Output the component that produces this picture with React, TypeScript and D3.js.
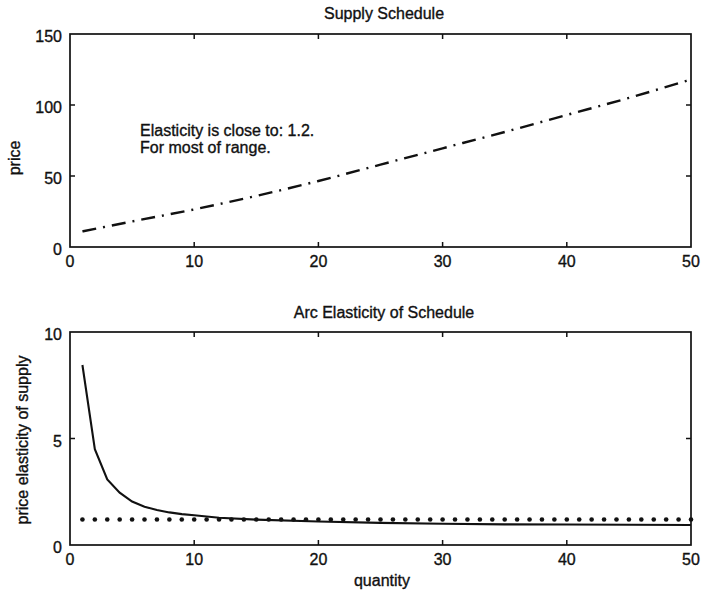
import React from "react";
import * as d3 from "d3";

// supply schedule
const supplyQty = [1, 5, 10, 15, 20, 25, 30, 35, 40, 45, 50];
const supplyPrice = [11, 18, 26.5, 36, 46.5, 58, 69.5, 81, 93, 105, 118];

// arc elasticity
const elastQty = [1, 2, 3, 4, 5, 6, 7, 8, 9, 10, 12, 15, 20, 25, 30, 35, 40, 45, 50];
const elastValue = [8.45, 4.5, 3.08, 2.46, 2.04, 1.8, 1.64, 1.53, 1.45, 1.4, 1.28, 1.19, 1.1, 1.04, 1.0, 0.97, 0.96, 0.95, 0.94];

// constant reference elasticity (dotted)
const refQty = d3.range(1, 51);
const refValue = 1.2;

const xTicks = [0, 10, 20, 30, 40, 50];
const topYTicks = [0, 50, 100, 150];
const botYTicks = [0, 5, 10];

const FONT = "'Liberation Sans', Arial, Helvetica, sans-serif";
const INK = "#111";

const left = 70;
const right = 691;
const topPanel = { y0: 34, y1: 247 };
const botPanel = { y0: 332, y1: 545 };

const x = d3.scaleLinear().domain([0, 50]).range([left, right]);

// scanned text looks a little heavier than plain Arial
const textStyle = { fontSize: 16, fill: INK, stroke: INK, strokeWidth: 0.35 };

function Panel({
  y,
  yTicks,
  title,
  titleY,
  yLabel,
  yLabelPos,
  children,
}: {
  y: d3.ScaleLinear<number, number>;
  yTicks: number[];
  title: string;
  titleY: number;
  yLabel: string;
  yLabelPos: [number, number];
  children?: React.ReactNode;
}) {
  const [yTop, yBot] = [y.range()[1], y.range()[0]];
  const tl = 5;
  return (
    <g>
      <text x={384} y={titleY} textAnchor="middle" {...textStyle}>
        {title}
      </text>
      <text
        transform={`translate(${yLabelPos[0]},${yLabelPos[1]}) rotate(-90)`}
        textAnchor="middle"
        {...textStyle}
      >
        {yLabel}
      </text>
      {children}
      <rect
        x={left}
        y={yTop}
        width={right - left}
        height={yBot - yTop}
        fill="none"
        stroke={INK}
        strokeWidth={1.7}
      />
      {xTicks.map((t) => (
        <g key={"x" + t}>
          {t > 0 && t < 50 && (
            <>
              <line x1={x(t)} x2={x(t)} y1={yBot} y2={yBot - tl} stroke={INK} strokeWidth={1.5} />
              <line x1={x(t)} x2={x(t)} y1={yTop} y2={yTop + tl} stroke={INK} strokeWidth={1.5} />
            </>
          )}
          <text x={x(t)} y={yBot + 20} textAnchor="middle" {...textStyle}>
            {t}
          </text>
        </g>
      ))}
      {yTicks.map((t, i) => (
        <g key={"y" + t}>
          {i > 0 && i < yTicks.length - 1 && (
            <>
              <line x1={left} x2={left + tl} y1={y(t)} y2={y(t)} stroke={INK} strokeWidth={1.5} />
              <line x1={right} x2={right - tl} y1={y(t)} y2={y(t)} stroke={INK} strokeWidth={1.5} />
            </>
          )}
          <text x={62} y={y(t) + 8} textAnchor="end" {...textStyle}>
            {t}
          </text>
        </g>
      ))}
    </g>
  );
}

export default function App() {
  const yTop = d3.scaleLinear().domain([0, 150]).range([topPanel.y1, topPanel.y0]);
  const yBot = d3.scaleLinear().domain([0, 10]).range([botPanel.y1, botPanel.y0]);

  const supplyLine = d3
    .line<number>()
    .x((_, i) => x(supplyQty[i]))
    .y((d) => yTop(d))
    .curve(d3.curveMonotoneX);

  const elastLine = d3
    .line<number>()
    .x((_, i) => x(elastQty[i]))
    .y((d) => yBot(d));

  return (
    <svg
      width={701}
      height={595}
      style={{ position: "absolute", left: 0, top: 0, background: "#fff" }}
      fontFamily={FONT}
    >
      <Panel
        y={yTop}
        yTicks={topYTicks}
        title="Supply Schedule"
        titleY={19}
        yLabel="price"
        yLabelPos={[20, 158]}
      >
        <path
          d={supplyLine(supplyPrice) ?? ""}
          fill="none"
          stroke={INK}
          strokeWidth={2.4}
          strokeDasharray="14,7,2,7"
        />
        <text x={140} y={136} {...textStyle}>
          Elasticity is close to: 1.2.
        </text>
        <text x={140} y={153} {...textStyle}>
          For most of range.
        </text>
      </Panel>
      <Panel
        y={yBot}
        yTicks={botYTicks}
        title="Arc Elasticity of Schedule"
        titleY={318}
        yLabel="price elasticity of supply"
        yLabelPos={[28, 440]}
      >
        <path d={elastLine(elastValue) ?? ""} fill="none" stroke={INK} strokeWidth={2.1} />
        {refQty.map((q) => (
          <circle key={q} cx={x(q)} cy={yBot(refValue)} r={2.3} fill={INK} />
        ))}
      </Panel>
      <text x={382} y={586} textAnchor="middle" {...textStyle}>
        quantity
      </text>
    </svg>
  );
}
